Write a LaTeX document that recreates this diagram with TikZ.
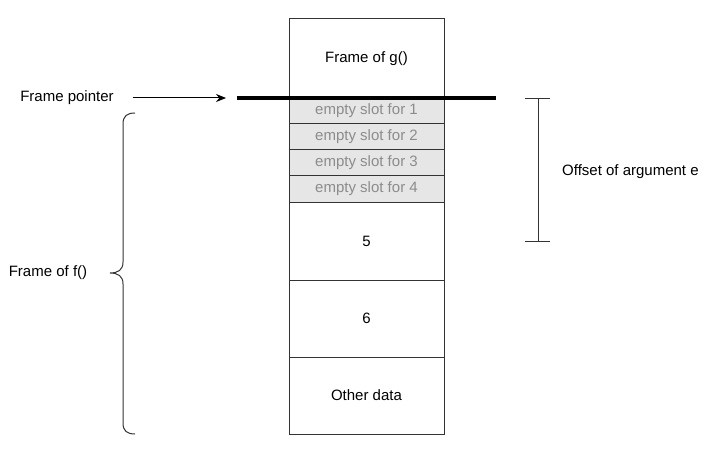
\documentclass[tikz,border=0pt]{standalone}
\usepackage{fontspec}
\setmainfont{Liberation Sans}
\usetikzlibrary{arrows.meta}
\definecolor{slotfill}{HTML}{E6E6E6}
\definecolor{slottext}{HTML}{8C8C8C}
\definecolor{edge}{HTML}{333333}
\begin{document}
\begin{tikzpicture}[x=1pt,y=-1pt,
  every node/.style={font=\fontsize{15}{18}\selectfont},
  cell/.style={draw=edge, line width=1pt, minimum width=155pt, inner sep=0pt},
  slot/.style={cell, fill=slotfill, text=slottext, minimum height=26pt},
  lbl/.style={inner sep=0pt}
]
\useasboundingbox (0,0) rectangle (722,465);
\node[cell, minimum height=79pt] (g) at (366.5,58.5) {Frame of g()};
\node[slot] (s1) at (366.5,111) {empty slot for 1};
\node[slot] (s2) at (366.5,137) {empty slot for 2};
\node[slot] (s3) at (366.5,163) {empty slot for 3};
\node[slot] (s4) at (366.5,189) {empty slot for 4};
\node[cell, minimum height=78pt] (b5) at (366.5,241) {5};
\node[cell, minimum height=77pt] (b6) at (366.5,318.5) {6};
\node[cell, minimum height=77pt] (od) at (366.5,395.5) {Other data};
% frame pointer line
\coordinate (fpl) at (237,98);
\coordinate (fpr) at (496,98);
\draw[line width=4pt] (fpl) -- (fpr);
\node[lbl] (fp) at (67,98) {Frame pointer};
\coordinate (fpend) at (226,98);
\draw[line width=1pt, -{Stealth[length=10pt,width=8pt]}] ([xshift=19pt]fp.east) -- (fpend);
% brace
\node[lbl] (ff) at (48,273) {Frame of f()};
\coordinate (bt) at (135,113);
\coordinate (bb) at (135,434);
\coordinate (btip) at (110,273);
\draw[line width=1pt, edge] (bt) .. controls (127,113) and (123,116) .. (123,124)
  -- (123,262) .. controls (123,270) and (118,273) .. (btip)
  .. controls (118,273) and (123,276) .. (123,284)
  -- (123,423) .. controls (123,431) and (127,434) .. (bb);
% offset bracket
\coordinate (ot) at (538,99);
\coordinate (ob) at (538,241);
\draw[line width=1pt, edge] (ot) -- (ob);
\draw[line width=1pt, edge] ([xshift=-13pt]ot) -- ([xshift=12pt]ot);
\draw[line width=1pt, edge] ([xshift=-13pt]ob) -- ([xshift=12pt]ob);
\node[lbl, anchor=west] (off) at (562,172) {Offset of argument e};
\end{tikzpicture}
\end{document}
